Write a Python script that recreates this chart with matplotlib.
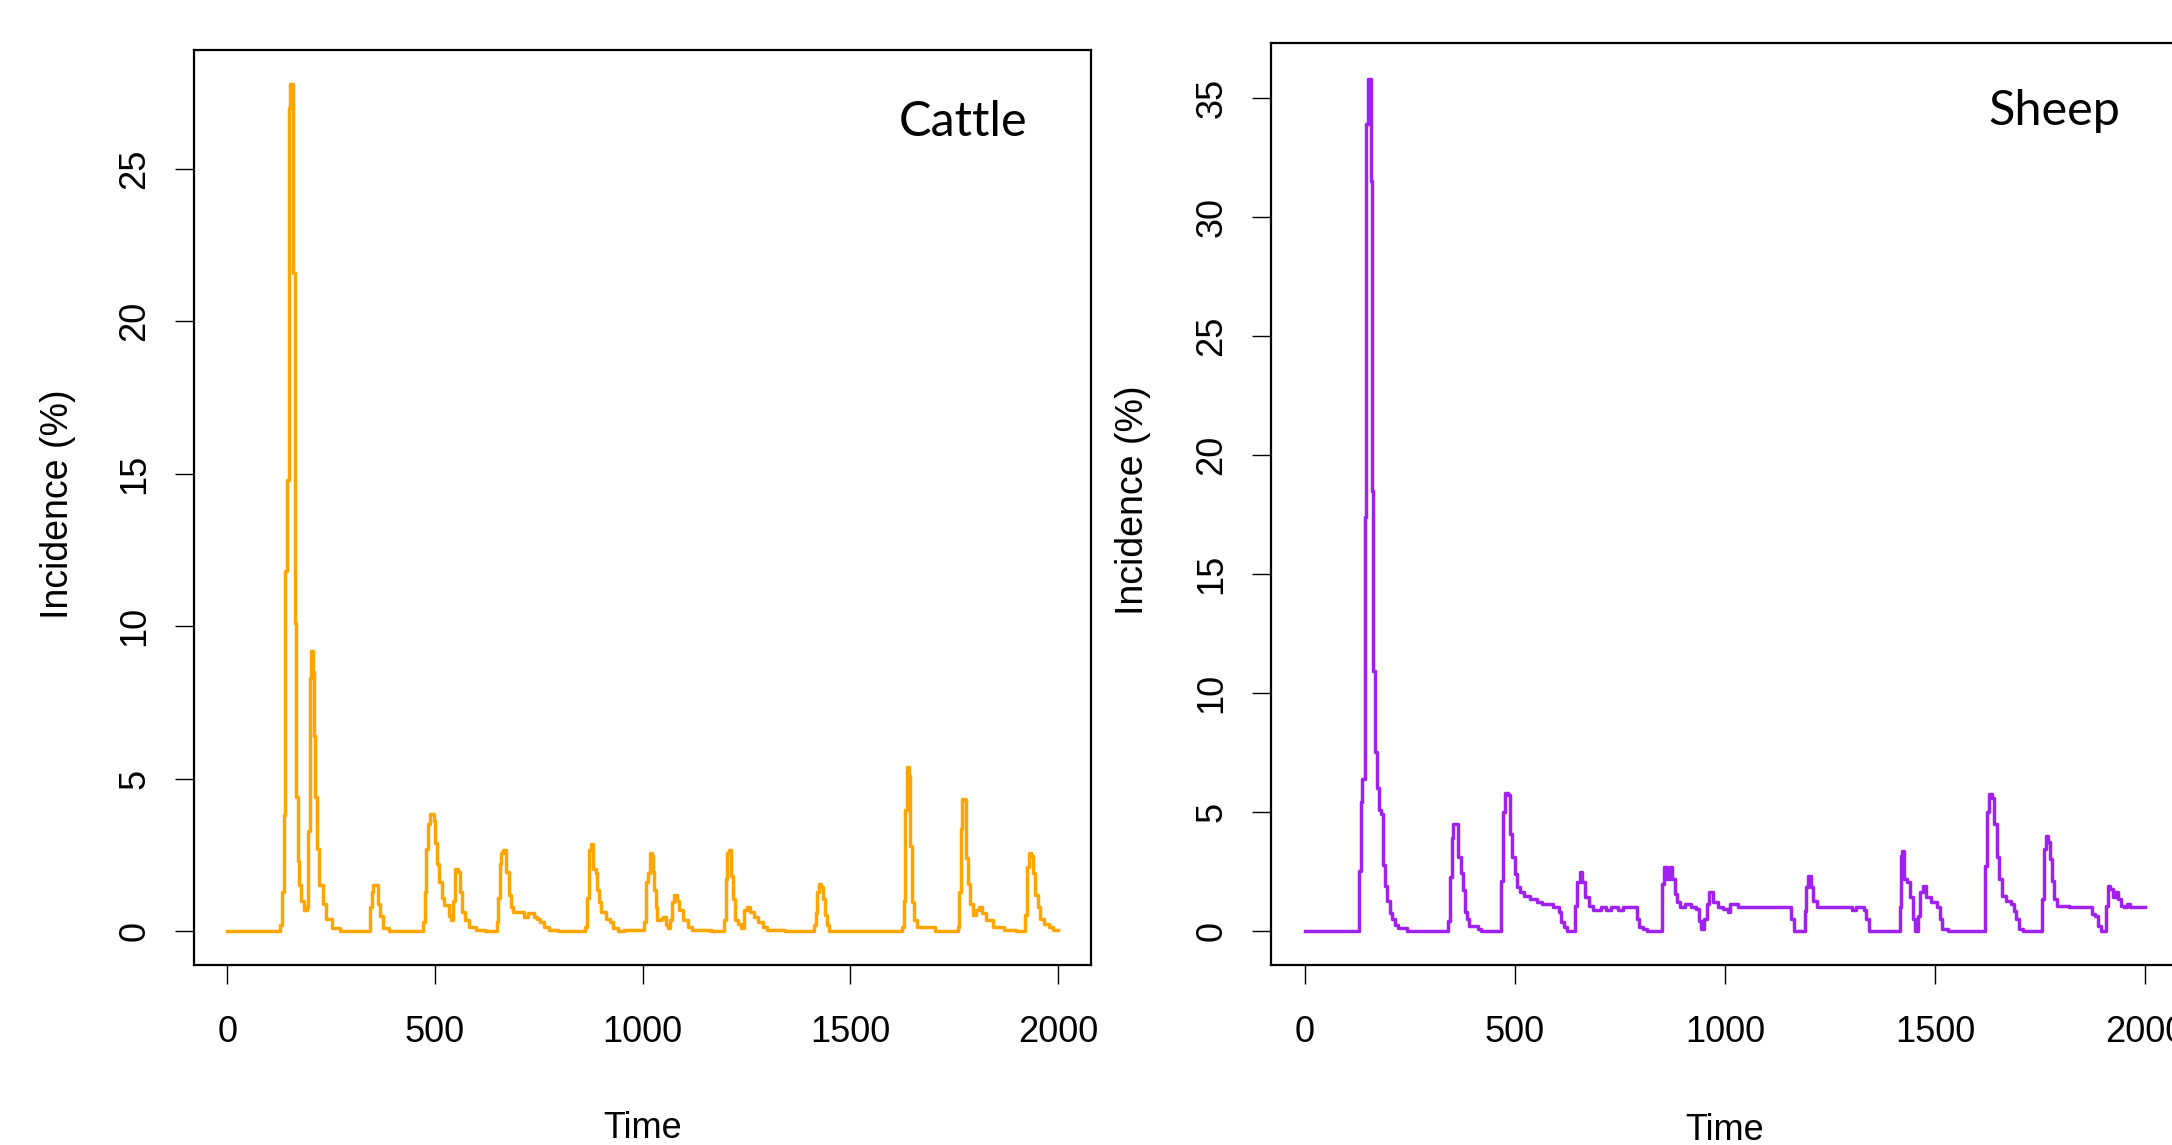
import matplotlib
matplotlib.use('Agg')
import matplotlib.pyplot as plt

# incidence (%), (time, value) at each step
cattle_time = [0, 128, 131, 136, 140, 144, 148, 152, 159, 163, 166, 170, 174, 178, 184, 193, 195, 199, 202, 206, 208, 211, 215, 221, 230, 238, 252, 272,
               343, 348, 352, 363, 368, 375, 390,
               472, 476, 478, 483, 489, 497, 500, 506, 511, 516, 522, 533, 539, 544, 548, 555, 561, 566, 572, 583, 600, 621,
               650, 652, 656, 660, 665, 671, 678, 683, 687, 715, 725, 738, 745, 753, 764, 775, 797,
               862, 867, 871, 875, 880, 887, 891, 895, 900, 911, 922, 930, 941, 955,
               1004, 1008, 1013, 1017, 1022, 1025, 1028, 1032, 1036, 1044, 1050, 1056, 1062, 1067, 1071, 1076, 1082, 1088, 1097, 1110, 1120, 1166,
               1196, 1200, 1204, 1208, 1213, 1218, 1223, 1230, 1238, 1245, 1252, 1260, 1268, 1278, 1290, 1300, 1343,
               1414, 1418, 1421, 1425, 1431, 1435, 1440, 1444, 1450,
               1626, 1629, 1633, 1637, 1642, 1645, 1649, 1654, 1660, 1704,
               1759, 1762, 1766, 1769, 1776, 1779, 1784, 1789, 1795, 1802, 1810, 1818, 1828, 1845, 1870, 1899,
               1921, 1926, 1930, 1935, 1941, 1946, 1952, 1957, 1966, 1978, 1988, 2000]
cattle_inc = [0, 0.2, 1.3, 3.8, 11.8, 14.8, 27.0, 27.8, 21.6, 10.1, 4.4, 2.3, 1.5, 1.0, 0.7, 0.8, 3.3, 8.3, 9.2, 8.5, 6.4, 4.4, 2.7, 1.5, 0.9, 0.4, 0.1, 0,
              0.8, 1.3, 1.5, 0.9, 0.5, 0.1, 0,
              0.3, 1.3, 2.7, 3.5, 3.85, 3.6, 2.9, 2.2, 1.6, 1.1, 0.85, 0.5, 0.36, 1.0, 2.05, 1.95, 1.3, 0.63, 0.36, 0.14, 0.05, 0,
              0.3, 1.1, 2.2, 2.55, 2.65, 1.95, 1.2, 0.8, 0.63, 0.47, 0.58, 0.47, 0.41, 0.3, 0.14, 0.05, 0,
              0.15, 1.1, 2.65, 2.85, 2.05, 1.9, 1.35, 0.96, 0.63, 0.41, 0.3, 0.09, 0, 0.05,
              0.3, 1.6, 1.9, 2.55, 2.45, 1.95, 1.35, 0.8, 0.36, 0.41, 0.47, 0.2, 0.09, 0.36, 0.96, 1.2, 1.0, 0.69, 0.36, 0.14, 0.05, 0,
              0.36, 1.7, 2.55, 2.65, 1.8, 1.07, 0.36, 0.25, 0.09, 0.69, 0.8, 0.63, 0.47, 0.3, 0.14, 0.05, 0,
              0.2, 0.58, 1.3, 1.56, 1.45, 1.07, 0.52, 0.2, 0,
              0.15, 1.0, 3.96, 5.38, 5.1, 2.8, 0.96, 0.36, 0.14, 0,
              0.15, 1.3, 3.36, 4.35, 4.3, 2.4, 1.56, 0.9, 0.52, 0.69, 0.8, 0.58, 0.36, 0.14, 0.05, 0,
              0.52, 2.1, 2.55, 2.45, 1.9, 1.2, 0.8, 0.41, 0.25, 0.14, 0.05, 0.05]

sheep_time = [0, 127, 129, 133, 137, 143, 147, 150, 157, 160, 163, 168, 172, 176, 181, 186, 192, 197, 202, 208, 214, 222, 244,
              340, 345, 350, 354, 365, 371, 377, 381, 386, 392, 412, 420,
              467, 472, 477, 484, 488, 494, 500, 506, 512, 523, 535, 553, 564, 590, 605, 611, 617, 623,
              644, 649, 654, 660, 667, 676, 687, 705, 717, 728, 746, 758, 790, 796, 806, 815,
              851, 856, 862, 868, 874, 880, 886, 892, 904, 920, 932, 938, 944, 950, 956, 963, 971, 983, 996, 1006, 1013, 1030, 1158, 1164,
              1190, 1193, 1197, 1204, 1210, 1218, 1302, 1312, 1330, 1335, 1342,
              1416, 1418, 1421, 1426, 1432, 1441, 1447, 1452, 1458, 1464, 1471, 1479, 1489, 1504, 1511, 1517, 1530,
              1619, 1623, 1628, 1634, 1640, 1646, 1652, 1658, 1668, 1680, 1688, 1693, 1700, 1708,
              1755, 1759, 1763, 1769, 1773, 1777, 1782, 1790, 1818, 1872, 1880, 1887, 1894,
              1907, 1911, 1917, 1923, 1928, 1934, 1941, 1948, 1956, 1964, 2000]
sheep_inc = [0, 0, 2.5, 5.4, 6.4, 17.4, 33.9, 35.8, 31.5, 18.5, 10.9, 7.5, 6.0, 5.1, 4.9, 2.75, 1.9, 1.25, 0.75, 0.5, 0.25, 0.12, 0,
             0.43, 2.25, 3.9, 4.5, 3.1, 2.45, 1.7, 0.78, 0.5, 0.22, 0.08, 0,
             2.1, 5.0, 5.8, 5.7, 4.07, 3.1, 2.4, 1.83, 1.62, 1.48, 1.34, 1.2, 1.13, 0.99, 0.78, 0.36, 0.15, 0,
             1.06, 2.04, 2.46, 2.04, 1.41, 1.06, 0.9, 0.99, 0.9, 0.99, 0.9, 0.99, 0.5, 0.15, 0.08, 0,
             1.97, 2.67, 2.18, 2.67, 2.18, 1.55, 1.2, 0.99, 1.13, 0.99, 0.92, 0.43, 0.08, 0.5, 1.13, 1.62, 1.2, 0.99, 0.92, 0.78, 1.13, 0.99, 0.5, 0,
             0.85, 1.83, 2.32, 1.83, 1.27, 0.99, 0.9, 0.99, 0.9, 0.5, 0,
             0.99, 3.16, 3.37, 2.18, 2.04, 1.41, 0.5, 0, 0.64, 1.62, 1.9, 1.41, 1.2, 0.99, 0.5, 0.08, 0,
             2.74, 4.98, 5.75, 5.6, 4.5, 3.09, 2.18, 1.48, 1.27, 1.13, 0.85, 0.5, 0.08, 0,
             1.34, 3.44, 4.0, 3.72, 3.02, 2.11, 1.34, 1.06, 0.99, 0.71, 0.64, 0.22, 0,
             1.06, 1.9, 1.76, 1.41, 1.62, 1.34, 1.06, 0.99, 1.13, 0.99, 0.99]

x_ticks = [0, 500, 1000, 1500, 2000]
cattle_yticks = [0, 5, 10, 15, 20, 25]
sheep_yticks = [0, 5, 10, 15, 20, 25, 30, 35]

sans = ['Liberation Sans', 'DejaVu Sans']

fig = plt.figure(figsize=(21.72, 11.45), dpi=100)
ax1 = fig.add_axes([194 / 2172, 180 / 1145, 897 / 2172, 915 / 1145])
ax2 = fig.add_axes([1271 / 2172, 180 / 1145, 908 / 2172, 922 / 1145])

panels = [(ax1, cattle_time, cattle_inc, '#FFA500', cattle_yticks, (-1.11, 28.9), 'Cattle', 0.857, 0.906),
          (ax2, sheep_time, sheep_inc, '#A020F0', sheep_yticks, (-1.43, 37.3), 'Sheep', 0.863, 0.911)]

for ax, t, v, col, yt, yl, name, tx, ty in panels:
    ax.plot(t, v, color=col, lw=2.5, drawstyle='steps-post')
    ax.set_xlim(-80, 2080)
    ax.set_ylim(*yl)
    ax.set_xticks(x_ticks)
    ax.set_xticklabels([str(x) for x in x_ticks], family=sans, fontsize=26)
    ax.set_yticks(yt)
    ax.set_yticklabels([str(y) for y in yt], family=sans, fontsize=26, rotation=90, va='center')
    ax.tick_params(axis='x', length=14, width=1, pad=22)
    ax.tick_params(axis='y', length=14, width=1, pad=16)
    for s in ax.spines.values():
        s.set_linewidth(1.6)
    ax.set_xlabel('Time', family=sans, fontsize=26)
    ax.xaxis.set_label_coords(0.5, -0.179)
    ax.xaxis.label.set_va('center')
    ax.set_ylabel('Incidence (%)', family=sans, fontsize=27)
    ax.yaxis.set_label_coords(-0.152, 0.504)
    ax.yaxis.label.set_va('center')
    ax.text(tx, ty, name, transform=ax.transAxes, ha='center', va='baseline',
            family=['Lato', 'Open Sans', 'DejaVu Sans'], fontsize=35)

fig.savefig('out.png', dpi=100)
